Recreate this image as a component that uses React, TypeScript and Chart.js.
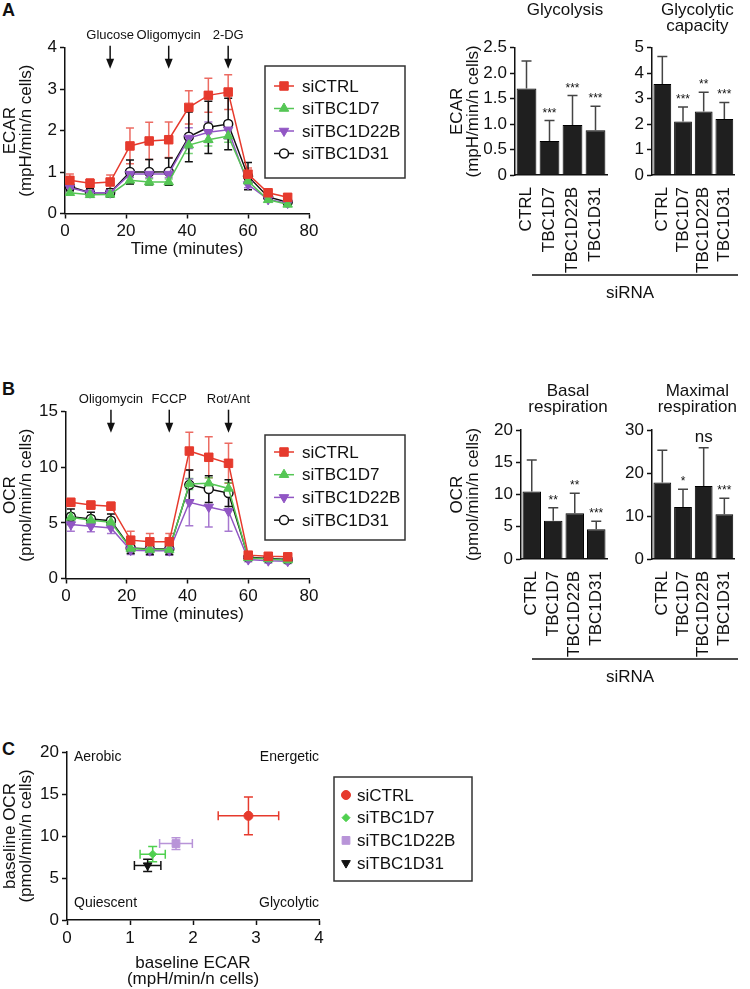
import React, { useEffect, useRef } from 'react';
import { Chart, registerables } from 'chart.js';

Chart.register(...registerables);

const FONT = '"Liberation Sans", Arial, Helvetica, sans-serif';

// ---------------- DATA ----------------
const groupLabels = ['siCTRL', 'siTBC1D7', 'siTBC1D22B', 'siTBC1D31'];
const barCategories = ['CTRL', 'TBC1D7', 'TBC1D22B', 'TBC1D31'];

// measurement times (minutes)
const timeMinutes = [1.6, 8.2, 14.8, 21.3, 27.6, 34.0, 40.6, 47.0, 53.5, 60.0, 66.6, 73.0];

// Panel A: ECAR kinetics
const ecarCTRL = [0.80, 0.73, 0.76, 1.63, 1.75, 1.78, 2.56, 2.85, 2.93, 0.95, 0.50, 0.39];
const ecarCTRLErr = [0.15, 0.10, 0.17, 0.43, 0.45, 0.43, 0.40, 0.41, 0.42, 0.15, 0.05, 0.05];
const ecarTBC1D7 = [0.50, 0.45, 0.46, 0.80, 0.76, 0.76, 1.65, 1.78, 1.87, 0.78, 0.33, 0.22];
const ecarTBC1D7Err = [0.05, 0.06, 0.05, 0.08, 0.08, 0.07, 0.20, 0.15, 0.15, 0.08, 0.04, 0.04];
const ecarTBC1D22B = [0.62, 0.50, 0.50, 0.95, 0.95, 0.95, 1.82, 1.96, 2.02, 0.70, 0.34, 0.25];
const ecarTBC1D22BErr = [0.07, 0.07, 0.07, 0.08, 0.08, 0.08, 0.25, 0.25, 0.22, 0.08, 0.05, 0.05];
const ecarTBC1D31 = [0.65, 0.50, 0.50, 1.00, 1.00, 1.01, 1.85, 2.08, 2.16, 0.90, 0.40, 0.27];
const ecarTBC1D31Err = [0.10, 0.10, 0.10, 0.29, 0.30, 0.33, 0.60, 0.63, 0.62, 0.33, 0.05, 0.05];
const ecarInjectionLabels = ['Glucose', 'Oligomycin', '2-DG'];
const ecarInjectionTimes = [14.8, 34.0, 53.5];

// Panel A: bar summaries
const glycolysisMean = [1.70, 0.67, 0.98, 0.88];
const glycolysisSD = [0.54, 0.40, 0.58, 0.47];
const glycolysisSig = ['', '***', '***', '***'];
const glycoCapacityMean = [3.57, 2.10, 2.49, 2.20];
const glycoCapacitySD = [1.08, 0.57, 0.76, 0.65];
const glycoCapacitySig = ['', '***', '**', '***'];

// Panel B: OCR kinetics
const ocrCTRL = [6.85, 6.60, 6.50, 3.45, 3.30, 3.30, 11.46, 10.90, 10.36, 2.10, 2.00, 1.95];
const ocrCTRLErr = [0.35, 0.35, 0.35, 0.80, 0.75, 0.75, 1.70, 1.85, 1.80, 0.25, 0.20, 0.20];
const ocrTBC1D7 = [5.50, 5.24, 5.06, 2.70, 2.60, 2.60, 8.50, 8.57, 8.10, 1.85, 1.75, 1.65];
const ocrTBC1D7Err = [0.40, 0.40, 0.40, 0.40, 0.40, 0.40, 0.50, 0.50, 0.50, 0.20, 0.20, 0.20];
const ocrTBC1D22B = [4.85, 4.70, 4.55, 2.55, 2.50, 2.50, 6.85, 6.43, 6.04, 1.70, 1.60, 1.55];
const ocrTBC1D22BErr = [0.60, 0.50, 0.50, 0.40, 0.40, 0.40, 2.10, 1.80, 1.80, 0.20, 0.20, 0.20];
const ocrTBC1D31 = [5.56, 5.36, 5.20, 2.75, 2.65, 2.65, 8.42, 8.04, 7.68, 1.90, 1.80, 1.70];
const ocrTBC1D31Err = [0.70, 0.60, 0.60, 0.50, 0.50, 0.50, 1.34, 1.20, 1.20, 0.20, 0.20, 0.20];
const ocrInjectionLabels = ['Oligomycin', 'FCCP', 'Rot/Ant'];
const ocrInjectionTimes = [14.8, 34.0, 53.5];

// Panel B: bar summaries
const basalMean = [10.45, 5.94, 7.10, 4.60];
const basalSD = [4.90, 2.00, 3.10, 1.25];
const basalSig = ['', '**', '**', '***'];
const maximalMean = [17.8, 12.1, 17.0, 10.4];
const maximalSD = [7.5, 4.1, 8.9, 3.7];
const maximalSig = ['', '*', 'ns', '***'];

// Panel C: energy map
const baselineECAR = [2.88, 1.36, 1.73, 1.28];
const baselineECARErr = [0.48, 0.20, 0.26, 0.21];
const baselineOCR = [12.4, 7.84, 9.10, 6.50];
const baselineOCRErr = [2.25, 0.90, 0.70, 0.72];
const quadrantLabels = ['Aerobic', 'Energetic', 'Quiescent', 'Glycolytic'];

// ---------------- STYLES ----------------
const lineStyles = [
  { color: '#e63a2d', err: 'rgba(230,58,45,0.75)', style: 'rect', r: 6, rot: 0, fill: '#e63a2d' },
  { color: '#55c655', err: 'rgba(85,198,85,0.8)', style: 'triangle', r: 5.5, rot: 0, fill: '#55c655' },
  { color: '#9156c4', err: 'rgba(145,86,196,0.8)', style: 'triangle', r: 5.5, rot: 180, fill: '#9156c4' },
  { color: '#111111', err: '#111111', style: 'circle', r: 4.5, rot: 0, fill: '#ffffff' },
];
const scatterStyles = [
  { color: '#e63a2d', style: 'circle', r: 4.5, rot: 0 },
  { color: '#4fd04f', style: 'rectRot', r: 4, rot: 0 },
  { color: '#b894d8', style: 'rect', r: 5.5, rot: 0 },
  { color: '#111111', style: 'triangle', r: 5, rot: 180 },
];

// ---------------- HELPERS ----------------
function drawMarker(ctx: CanvasRenderingContext2D, style: string, x: number, y: number, r: number, rotDeg: number) {
  ctx.beginPath();
  if (style === 'circle') {
    ctx.arc(x, y, r, 0, Math.PI * 2);
  } else if (style === 'rect') {
    const s = r * Math.SQRT1_2;
    ctx.rect(x - s, y - s, 2 * s, 2 * s);
  } else if (style === 'rectRot') {
    ctx.moveTo(x - r, y);
    ctx.lineTo(x, y - r);
    ctx.lineTo(x + r, y);
    ctx.lineTo(x, y + r);
    ctx.closePath();
  } else if (style === 'triangle') {
    let rad = (rotDeg * Math.PI) / 180;
    ctx.moveTo(x + Math.sin(rad) * r, y - Math.cos(rad) * r);
    rad += (2 * Math.PI) / 3;
    ctx.lineTo(x + Math.sin(rad) * r, y - Math.cos(rad) * r);
    rad += (2 * Math.PI) / 3;
    ctx.lineTo(x + Math.sin(rad) * r, y - Math.cos(rad) * r);
    ctx.closePath();
  }
}

function drawErrors(chart: any, layer: string) {
  const ctx = chart.ctx as CanvasRenderingContext2D;
  chart.data.datasets.forEach((ds: any, di: number) => {
    if ((ds.errLayer || 'before') !== layer) return;
    if (!ds.yErr && !ds.xErr) return;
    const meta = chart.getDatasetMeta(di);
    const xs = chart.scales[meta.xAxisID];
    const ys = chart.scales[meta.yAxisID];
    const cap = ds.errCap ?? 4;
    ctx.save();
    ctx.strokeStyle = ds.errColor;
    ctx.lineWidth = ds.errWidth ?? 1.5;
    meta.data.forEach((el: any, i: number) => {
      const raw = ds.data[i];
      const yv = typeof raw === 'number' ? raw : raw.y;
      const px = el.x;
      const py = el.y;
      ctx.beginPath();
      if (ds.yErr) {
        const e = ds.yErr[i];
        const t = ys.getPixelForValue(yv + e);
        const b = ds.errUpOnly ? py : ys.getPixelForValue(yv - e);
        ctx.moveTo(px, t);
        ctx.lineTo(px, b);
        ctx.moveTo(px - cap, t);
        ctx.lineTo(px + cap, t);
        if (!ds.errUpOnly) {
          ctx.moveTo(px - cap, b);
          ctx.lineTo(px + cap, b);
        }
      }
      if (ds.xErr) {
        const e = ds.xErr[i];
        const l = xs.getPixelForValue(raw.x - e);
        const r = xs.getPixelForValue(raw.x + e);
        ctx.moveTo(l, py);
        ctx.lineTo(r, py);
        ctx.moveTo(l, py - cap);
        ctx.lineTo(l, py + cap);
        ctx.moveTo(r, py - cap);
        ctx.lineTo(r, py + cap);
      }
      ctx.stroke();
    });
    ctx.restore();
  });
}

function drawSig(chart: any) {
  const ctx = chart.ctx as CanvasRenderingContext2D;
  chart.data.datasets.forEach((ds: any, di: number) => {
    if (!ds.sig) return;
    const meta = chart.getDatasetMeta(di);
    const ys = chart.scales[meta.yAxisID];
    meta.data.forEach((el: any, i: number) => {
      const s = ds.sig[i];
      if (!s) return;
      const top = ys.getPixelForValue(ds.data[i] + ds.yErr[i]);
      ctx.save();
      ctx.fillStyle = '#111';
      ctx.textAlign = 'center';
      ctx.textBaseline = 'alphabetic';
      if (s === 'ns') {
        ctx.font = `17px ${FONT}`;
        ctx.fillText(s, el.x, top - 6);
      } else {
        ctx.font = `12px ${FONT}`;
        ctx.fillText(s, el.x, top - 4);
      }
      ctx.restore();
    });
  });
}

const errorBarsPlugin = {
  id: 'errorBars',
  beforeDatasetsDraw(chart: any) {
    drawErrors(chart, 'before');
  },
  afterDatasetsDraw(chart: any) {
    drawErrors(chart, 'after');
    drawSig(chart);
  },
};

function legendPlugin(cfg: { x: number; y: number; w: number; h: number; firstRow: number; gap: number; markerX: number; textX: number; withLine: boolean }) {
  return {
    id: 'boxLegend',
    afterDraw(chart: any) {
      const ctx = chart.ctx as CanvasRenderingContext2D;
      ctx.save();
      ctx.strokeStyle = '#333';
      ctx.lineWidth = 1.5;
      ctx.strokeRect(cfg.x, cfg.y, cfg.w, cfg.h);
      chart.data.datasets.forEach((ds: any, i: number) => {
        const cy = cfg.firstRow + i * cfg.gap;
        if (cfg.withLine) {
          ctx.strokeStyle = ds.borderColor;
          ctx.lineWidth = 1.5;
          ctx.beginPath();
          ctx.moveTo(cfg.markerX - 10, cy);
          ctx.lineTo(cfg.markerX + 10, cy);
          ctx.stroke();
        }
        drawMarker(ctx, ds.pointStyle, cfg.markerX, cy, ds.pointRadius, ds.pointRotation || 0);
        ctx.fillStyle = ds.pointBackgroundColor;
        ctx.fill();
        ctx.strokeStyle = ds.pointBorderColor;
        ctx.lineWidth = ds.pointBorderWidth;
        ctx.stroke();
        ctx.fillStyle = '#111';
        ctx.font = `17px ${FONT}`;
        ctx.textAlign = 'left';
        ctx.textBaseline = 'middle';
        ctx.fillText(ds.label, cfg.textX, cy + 1);
      });
      ctx.restore();
    },
  };
}

function injectionPlugin(labels: string[], times: number[]) {
  return {
    id: 'injections',
    afterDraw(chart: any) {
      const ctx = chart.ctx as CanvasRenderingContext2D;
      const xs = chart.scales.x;
      const top = chart.chartArea.top;
      ctx.save();
      labels.forEach((lab, i) => {
        const x = xs.getPixelForValue(times[i]);
        ctx.fillStyle = '#111';
        ctx.font = `13px ${FONT}`;
        ctx.textAlign = 'center';
        ctx.textBaseline = 'middle';
        ctx.fillText(lab, x, top - 12);
        ctx.strokeStyle = '#111';
        ctx.lineWidth = 1.5;
        ctx.beginPath();
        ctx.moveTo(x, top - 2);
        ctx.lineTo(x, top + 14);
        ctx.stroke();
        ctx.beginPath();
        ctx.moveTo(x - 4, top + 11);
        ctx.lineTo(x + 4, top + 11);
        ctx.lineTo(x, top + 21);
        ctx.closePath();
        ctx.fill();
      });
      ctx.restore();
    },
  };
}

function titlePlugin(lines: string[], offsets: number[]) {
  return {
    id: 'panelTitle',
    afterDraw(chart: any) {
      const ctx = chart.ctx as CanvasRenderingContext2D;
      const { left, right, top } = chart.chartArea;
      ctx.save();
      ctx.fillStyle = '#111';
      ctx.font = `17px ${FONT}`;
      ctx.textAlign = 'center';
      ctx.textBaseline = 'alphabetic';
      lines.forEach((t, i) => ctx.fillText(t, (left + right) / 2 + 4, top + offsets[i]));
      ctx.restore();
    },
  };
}

function bracketPlugin(x1: number, x2: number, y: number, label: string, labelX: number, labelY: number) {
  return {
    id: 'bracket',
    afterDraw(chart: any) {
      const ctx = chart.ctx as CanvasRenderingContext2D;
      ctx.save();
      ctx.strokeStyle = '#111';
      ctx.lineWidth = 1.5;
      ctx.beginPath();
      ctx.moveTo(x1, y);
      ctx.lineTo(x2, y);
      ctx.stroke();
      ctx.fillStyle = '#111';
      ctx.font = `17px ${FONT}`;
      ctx.textAlign = 'center';
      ctx.textBaseline = 'middle';
      ctx.fillText(label, labelX, labelY);
      ctx.restore();
    },
  };
}

const quadrantPlugin = {
  id: 'quadrants',
  afterDraw(chart: any) {
    const ctx = chart.ctx as CanvasRenderingContext2D;
    const { left, right, top, bottom } = chart.chartArea;
    ctx.save();
    ctx.fillStyle = '#111';
    ctx.font = `14px ${FONT}`;
    ctx.textBaseline = 'middle';
    ctx.textAlign = 'left';
    ctx.fillText(quadrantLabels[0], left + 7, top + 5);
    ctx.fillText(quadrantLabels[2], left + 7, bottom - 17);
    ctx.textAlign = 'right';
    ctx.fillText(quadrantLabels[1], right, top + 5);
    ctx.fillText(quadrantLabels[3], right, bottom - 17);
    ctx.restore();
  },
};

const tickFont = { family: FONT, size: 17 };
const titleFont = { family: FONT, size: 17, lineHeight: '16px' };

function axisCommon() {
  return {
    grid: { display: true, drawOnChartArea: false, drawTicks: true, tickLength: 5, tickWidth: 1.5, tickColor: '#111' },
    border: { display: true, color: '#111', width: 1.5 },
  };
}

// ---------------- CONFIG BUILDERS ----------------
function lineConfig(opts: {
  series: number[][];
  errs: number[][];
  yMax: number;
  yStep: number;
  yTitle: string[];
  padTop: number;
  yWidth: number;
  xHeight: number;
  injLabels: string[];
  injTimes: number[];
  legend: any;
}) {
  const datasets = opts.series.map((vals, si) => {
    const st = lineStyles[si];
    return {
      label: groupLabels[si],
      data: timeMinutes.map((t, i) => ({ x: t, y: vals[i] })),
      borderColor: st.color,
      backgroundColor: st.fill,
      borderWidth: 1.5,
      pointStyle: st.style,
      pointRotation: st.rot,
      pointRadius: st.r,
      pointBackgroundColor: st.fill,
      pointBorderColor: st.color,
      pointBorderWidth: st.style === 'circle' ? 1.5 : 1,
      tension: 0,
      fill: false,
      yErr: opts.errs[si],
      errColor: st.err,
      errCap: 4,
    };
  });
  return {
    type: 'line',
    data: { datasets },
    options: {
      animation: false,
      responsive: false,
      devicePixelRatio: 1,
      layout: { padding: { top: opts.padTop, right: 111, left: 0, bottom: 0 } },
      plugins: { legend: { display: false }, tooltip: { enabled: false } },
      scales: {
        x: {
          type: 'linear',
          min: 0,
          max: 80,
          ...axisCommon(),
          ticks: { stepSize: 20, font: tickFont, color: '#111', padding: 3, maxRotation: 0 },
          title: { display: true, text: 'Time (minutes)', font: titleFont, color: '#111', padding: { top: 0, bottom: 5 } },
          afterFit: (s: any) => {
            s.height = opts.xHeight;
          },
        },
        y: {
          type: 'linear',
          min: 0,
          max: opts.yMax,
          ...axisCommon(),
          ticks: { stepSize: opts.yStep, font: tickFont, color: '#111', padding: 3 },
          title: { display: true, text: opts.yTitle, font: titleFont, color: '#111', padding: { top: 2, bottom: 0 } },
          afterFit: (s: any) => {
            s.width = opts.yWidth;
          },
        },
      },
    },
    plugins: [errorBarsPlugin, injectionPlugin(opts.injLabels, opts.injTimes), legendPlugin(opts.legend)],
  };
}

function barConfig(opts: {
  means: number[];
  sds: number[];
  sig: string[];
  yMax: number;
  yStep: number;
  decimals: boolean;
  yTitle: string[] | null;
  padTop: number;
  padRight: number;
  yWidth: number;
  xHeight: number;
  title: string[];
  titleOffsets: number[];
  extra: any[];
}) {
  return {
    type: 'bar',
    data: {
      labels: barCategories,
      datasets: [
        {
          label: 'siRNA',
          data: opts.means,
          backgroundColor: '#1f1f1f',
          borderColor: '#000',
          borderWidth: 1,
          barPercentage: 0.86,
          categoryPercentage: 1,
          yErr: opts.sds,
          errUpOnly: true,
          errColor: '#444',
          errLayer: 'after',
          errCap: 5,
          sig: opts.sig,
        },
      ],
    },
    options: {
      animation: false,
      responsive: false,
      devicePixelRatio: 1,
      layout: { padding: { top: opts.padTop, right: opts.padRight, left: 0, bottom: 0 } },
      plugins: { legend: { display: false }, tooltip: { enabled: false } },
      scales: {
        x: {
          type: 'category',
          grid: { display: false },
          border: { display: true, color: '#111', width: 1.5 },
          ticks: { font: tickFont, color: '#111', padding: 4, minRotation: 90, maxRotation: 90, autoSkip: false },
          afterFit: (s: any) => {
            s.height = opts.xHeight;
          },
        },
        y: {
          type: 'linear',
          min: 0,
          max: opts.yMax,
          ...axisCommon(),
          ticks: {
            stepSize: opts.yStep,
            font: tickFont,
            color: '#111',
            padding: 3,
            callback: (v: any) => (opts.decimals && v !== 0 ? Number(v).toFixed(1) : String(v)),
          },
          title: opts.yTitle
            ? { display: true, text: opts.yTitle, font: titleFont, color: '#111', padding: { top: 9, bottom: 0 } }
            : { display: false },
          afterFit: (s: any) => {
            s.width = opts.yWidth;
          },
        },
      },
    },
    plugins: [errorBarsPlugin, titlePlugin(opts.title, opts.titleOffsets), ...opts.extra],
  };
}

function scatterConfig() {
  const datasets = groupLabels.map((g, i) => {
    const st = scatterStyles[i];
    return {
      label: g,
      data: [{ x: baselineECAR[i], y: baselineOCR[i] }],
      pointStyle: st.style,
      pointRotation: st.rot,
      pointRadius: st.r,
      pointBackgroundColor: st.color,
      pointBorderColor: st.color,
      pointBorderWidth: 1,
      borderColor: st.color,
      backgroundColor: st.color,
      showLine: false,
      xErr: [baselineECARErr[i]],
      yErr: [baselineOCRErr[i]],
      errColor: st.color,
      errCap: 4.5,
    };
  });
  return {
    type: 'scatter',
    data: { datasets },
    options: {
      animation: false,
      responsive: false,
      devicePixelRatio: 1,
      layout: { padding: { top: 22, right: 161, left: 0, bottom: 0 } },
      plugins: { legend: { display: false }, tooltip: { enabled: false } },
      scales: {
        x: {
          type: 'linear',
          min: 0,
          max: 4,
          ...axisCommon(),
          ticks: { stepSize: 1, font: tickFont, color: '#111', padding: 3 },
          title: { display: true, text: ['baseline ECAR', '(mpH/min/n cells)'], font: titleFont, color: '#111', padding: { top: 0, bottom: 2 } },
          afterFit: (s: any) => {
            s.height = 69;
          },
        },
        y: {
          type: 'linear',
          min: 0,
          max: 20,
          ...axisCommon(),
          ticks: { stepSize: 5, font: tickFont, color: '#111', padding: 3 },
          title: { display: true, text: ['baseline OCR', '(pmol/min/n cells)'], font: titleFont, color: '#111', padding: { top: 2, bottom: 0 } },
          afterFit: (s: any) => {
            s.width = 67;
          },
        },
      },
    },
    plugins: [
      errorBarsPlugin,
      quadrantPlugin,
      legendPlugin({ x: 334, y: 47, w: 138, h: 104, firstRow: 65, gap: 22.7, markerX: 346, textX: 357, withLine: false }),
    ],
  };
}

// ---------------- COMPONENTS ----------------
function ChartBox(props: { left: number; top: number; width: number; height: number; build: () => any }) {
  const ref = useRef<HTMLCanvasElement>(null);
  useEffect(() => {
    const chart = new Chart(ref.current as HTMLCanvasElement, props.build());
    return () => chart.destroy();
  }, []);
  return (
    <canvas
      ref={ref}
      width={props.width}
      height={props.height}
      style={{ position: 'absolute', left: props.left, top: props.top, width: props.width, height: props.height }}
    />
  );
}

const letterStyle = (top: number): React.CSSProperties => ({
  position: 'absolute',
  left: 2,
  top,
  fontFamily: FONT,
  fontWeight: 'bold',
  fontSize: 18,
  lineHeight: '18px',
  color: '#111',
});

export default function App() {
  return (
    <div style={{ position: 'absolute', left: 0, top: 0, width: 750, height: 989, background: '#fff', overflow: 'hidden' }}>
      <div style={letterStyle(1)}>A</div>
      <div style={letterStyle(380)}>B</div>
      <div style={letterStyle(740)}>C</div>

      <ChartBox
        left={0}
        top={0}
        width={420}
        height={262}
        build={() =>
          lineConfig({
            series: [ecarCTRL, ecarTBC1D7, ecarTBC1D22B, ecarTBC1D31],
            errs: [ecarCTRLErr, ecarTBC1D7Err, ecarTBC1D22BErr, ecarTBC1D31Err],
            yMax: 4,
            yStep: 1,
            yTitle: ['ECAR', '(mpH/min/n cells)'],
            padTop: 47.7,
            yWidth: 65,
            xHeight: 48.5,
            injLabels: ecarInjectionLabels,
            injTimes: ecarInjectionTimes,
            legend: { x: 265, y: 66, w: 140, h: 112, firstRow: 86, gap: 22.5, markerX: 284, textX: 302, withLine: true },
          })
        }
      />
      <ChartBox
        left={440}
        top={0}
        width={310}
        height={305}
        build={() =>
          barConfig({
            means: glycolysisMean,
            sds: glycolysisSD,
            sig: glycolysisSig,
            yMax: 2.5,
            yStep: 0.5,
            decimals: true,
            yTitle: ['ECAR', '(mpH/min/n cells)'],
            padTop: 47.7,
            padRight: 143,
            yWidth: 75,
            xHeight: 130,
            title: ['Glycolysis'],
            titleOffsets: [-32.7],
            extra: [bracketPlugin(92, 298, 275, 'siRNA', 190, 293)],
          })
        }
      />
      <ChartBox
        left={600}
        top={0}
        width={150}
        height={305}
        build={() =>
          barConfig({
            means: glycoCapacityMean,
            sds: glycoCapacitySD,
            sig: glycoCapacitySig,
            yMax: 5,
            yStep: 1,
            decimals: false,
            yTitle: null,
            padTop: 47.7,
            padRight: 10,
            yWidth: 52,
            xHeight: 130,
            title: ['Glycolytic', 'capacity'],
            titleOffsets: [-32.7, -16.7],
            extra: [],
          })
        }
      />

      <ChartBox
        left={0}
        top={370}
        width={420}
        height={257}
        build={() =>
          lineConfig({
            series: [ocrCTRL, ocrTBC1D7, ocrTBC1D22B, ocrTBC1D31],
            errs: [ocrCTRLErr, ocrTBC1D7Err, ocrTBC1D22BErr, ocrTBC1D31Err],
            yMax: 15,
            yStep: 5,
            yTitle: ['OCR', '(pmol/min/n cells)'],
            padTop: 41.7,
            yWidth: 66,
            xHeight: 48.5,
            injLabels: ocrInjectionLabels,
            injTimes: ocrInjectionTimes,
            legend: { x: 265, y: 65, w: 140, h: 105, firstRow: 82, gap: 22.7, markerX: 284, textX: 302, withLine: true },
          })
        }
      />
      <ChartBox
        left={440}
        top={370}
        width={310}
        height={325}
        build={() =>
          barConfig({
            means: basalMean,
            sds: basalSD,
            sig: basalSig,
            yMax: 20,
            yStep: 5,
            decimals: false,
            yTitle: ['OCR', '(pmol/min/n cells)'],
            padTop: 60,
            padRight: 143,
            yWidth: 81,
            xHeight: 136,
            title: ['Basal', 'respiration'],
            titleOffsets: [-34, -18],
            extra: [bracketPlugin(92, 298, 289, 'siRNA', 190, 307)],
          })
        }
      />
      <ChartBox
        left={600}
        top={370}
        width={150}
        height={325}
        build={() =>
          barConfig({
            means: maximalMean,
            sds: maximalSD,
            sig: maximalSig,
            yMax: 30,
            yStep: 10,
            decimals: false,
            yTitle: null,
            padTop: 60,
            padRight: 10,
            yWidth: 52,
            xHeight: 136,
            title: ['Maximal', 'respiration'],
            titleOffsets: [-34, -18],
            extra: [],
          })
        }
      />

      <ChartBox left={0} top={730} width={480} height={259} build={scatterConfig} />
    </div>
  );
}
